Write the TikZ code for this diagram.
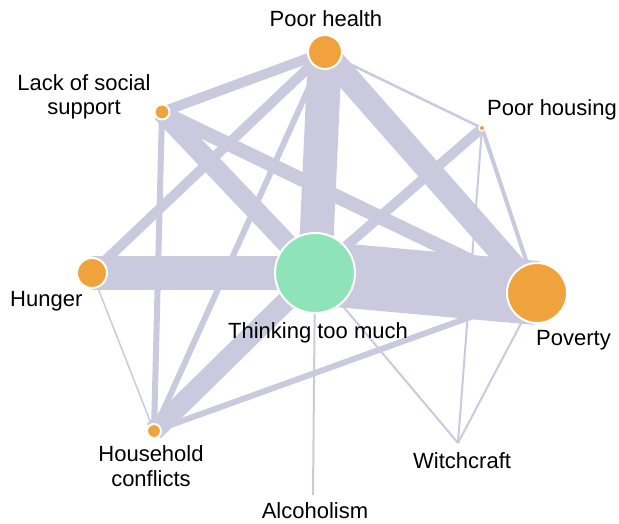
\documentclass[tikz,border=0pt]{standalone}
\usepackage{fontspec}
\setmainfont{Liberation Sans}
\usepackage{tikz}
\usetikzlibrary{backgrounds}
\definecolor{edgegray}{RGB}{203,201,222}
\definecolor{causeorange}{RGB}{240,163,60}
\definecolor{coregreen}{RGB}{142,228,184}

\begin{document}
\begin{tikzpicture}[
    x=1pt, y=-1pt,
    factor/.style={circle, draw=white, line width=2pt, fill=causeorange, inner sep=0pt, minimum size=#1},
    link/.style={draw=edgegray, line width=#1},
    lbl/.style={font=\fontsize{22}{24.5}\selectfont, inner sep=0pt, align=center}
]
    \useasboundingbox (0,0) rectangle (619,524);

    \node[factor=34] (health) at (325,52) {};
    \node[factor=15] (social) at (162,112) {};
    \node[factor=6, line width=1.5pt] (housing) at (482,128) {};
    \node[factor=30] (hunger) at (92,273) {};
    \node[factor=80, fill=coregreen] (think) at (315,273) {};
    \node[factor=60] (poverty) at (537,293) {};
    \node[factor=14] (conflict) at (154,431) {};
    \coordinate (witch) at (458,443);
    \coordinate (alcohol) at (313,495);

    \node[lbl, anchor=base] (healthlbl) at (326,27) {Poor health};
    \node[lbl] (sociallbl) at (84,97) {Lack of social\\support};
    \node[lbl, anchor=base west] (housinglbl) at (487,116) {Poor housing};
    \node[lbl, anchor=base west] (hungerlbl) at (10,306) {Hunger};
    \node[lbl, anchor=base] (thinklbl) at (318,338) {Thinking too much};
    \node[lbl, anchor=base west] (povertylbl) at (536,345) {Poverty};
    \node[lbl] (conflictlbl) at (151,466) {Household\\conflicts};
    \node[lbl, anchor=base west] (witchlbl) at (413,468) {Witchcraft};
    \node[lbl, anchor=base] (alcohollbl) at (315,518) {Alcoholism};

    \begin{scope}[on background layer]
        \draw[link=64] (think.center) -- (poverty.center);
        \draw[link=34] (hunger.center) -- (think.center);
        \draw[link=34] (health.center) -- (think.center);
        \draw[link=24] (health.center) -- (poverty.center);
        \draw[link=20] (social.center) -- (think.center);
        \draw[link=14] (social.center) -- (poverty.center);
        \draw[link=20] (think.center) -- (conflict.center);
        \draw[link=10] (health.center) -- (hunger.center);
        \draw[link=10] (social.center) -- (health.center);
        \draw[link=10] (housing.center) -- (think.center);
        \draw[link=6] (health.center) -- (conflict.center);
        \draw[link=6] (social.center) -- (conflict.center);
        \draw[link=6] (conflict.center) -- (poverty.center);
        \draw[link=4] (housing.center) -- (poverty.center);
        \draw[link=2.5] (health.center) -- (housing.center);
        \draw[link=2] (housing.center) -- (witch);
        \draw[link=2] (think.center) -- (witch);
        \draw[link=2] (poverty.center) -- (witch);
        \draw[link=2] (think.center) -- (alcohol);
        \draw[link=1.5] (hunger.center) -- (conflict.center);
    \end{scope}
\end{tikzpicture}
\end{document}
